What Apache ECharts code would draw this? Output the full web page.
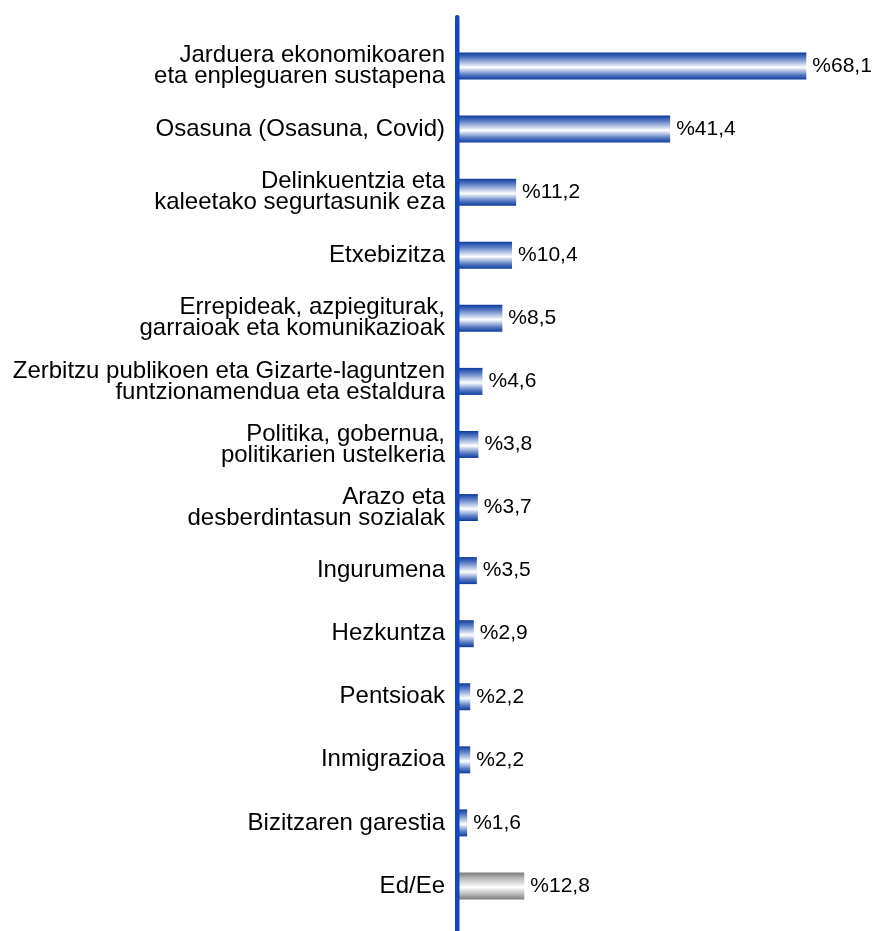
<!DOCTYPE html>
<html>
<head>
<meta charset="utf-8">
<script src="https://cdn.jsdelivr.net/npm/echarts@6/dist/echarts.min.js"></script>
<style>
  html, body { margin: 0; padding: 0; background: #fff; }
  #main { width: 873px; height: 931px; }
</style>
</head>
<body>
<div id="main"></div>
<script>
// kategoriak (goitik behera)
var categories = [
  "Jarduera ekonomikoaren\neta enpleguaren sustapena",
  "Osasuna (Osasuna, Covid)",
  "Delinkuentzia eta\nkaleetako segurtasunik eza",
  "Etxebizitza",
  "Errepideak, azpiegiturak,\ngarraioak eta komunikazioak",
  "Zerbitzu publikoen eta Gizarte-laguntzen\nfuntzionamendua eta estaldura",
  "Politika, gobernua,\npolitikarien ustelkeria",
  "Arazo eta\ndesberdintasun sozialak",
  "Ingurumena",
  "Hezkuntza",
  "Pentsioak",
  "Inmigrazioa",
  "Bizitzaren garestia",
  "Ed/Ee"
];
var values = [68.1, 41.4, 11.2, 10.4, 8.5, 4.6, 3.8, 3.7, 3.5, 2.9, 2.2, 2.2, 1.6, 12.8];
var greyIndex = [13];

(function () {
  var myChart = echarts.init(document.getElementById("main"));

  function grad(edge, mid) {
    return new echarts.graphic.LinearGradient(0, 0, 0, 1, [
      { offset: 0, color: edge },
      { offset: 0.2, color: mid },
      { offset: 0.55, color: "#ffffff" },
      { offset: 0.82, color: mid },
      { offset: 1, color: edge }
    ]);
  }
  var blue = grad("#0c3a9c", "#5a7cc4");
  var grey = grad("#7a7a7a", "#b5b5b5");

  var option = {
    animation: false,
    grid: {
      left: 459,
      right: 6,
      top: 34.5,
      bottom: 13.5
    },
    xAxis: {
      type: "value",
      min: 0,
      max: 80,
      show: false
    },
    yAxis: {
      type: "category",
      inverse: true,
      data: categories,
      axisLine: { show: false },
      axisTick: { show: false },
      axisLabel: {
        color: "#000",
        fontFamily: "Liberation Sans, Arial, sans-serif",
        fontSize: 24,
        lineHeight: 21,
        align: "right",
        margin: 14
      }
    },
    series: [
      {
        type: "bar",
        barWidth: 27,
        data: values.map(function (v, i) {
          return {
            value: v,
            itemStyle: { color: greyIndex.indexOf(i) >= 0 ? grey : blue }
          };
        }),
        label: {
          show: true,
          position: "right",
          distance: 6,
          color: "#000",
          fontFamily: "Liberation Sans, Arial, sans-serif",
          fontSize: 21,
          formatter: function (p) {
            return "%" + String(p.value).replace(".", ",");
          }
        }
      }
    ],
    // ardatz bertikala
    graphic: [
      {
        type: "rect",
        left: 455,
        top: 15,
        shape: { width: 4.5, height: 920, r: [2, 2, 0, 0] },
        style: { fill: "#1447c2" },
        z: 10
      }
    ]
  };
  myChart.setOption(option);
  window.addEventListener("resize", function () {
    myChart.resize();
  });
})();
</script>
</body>
</html>
